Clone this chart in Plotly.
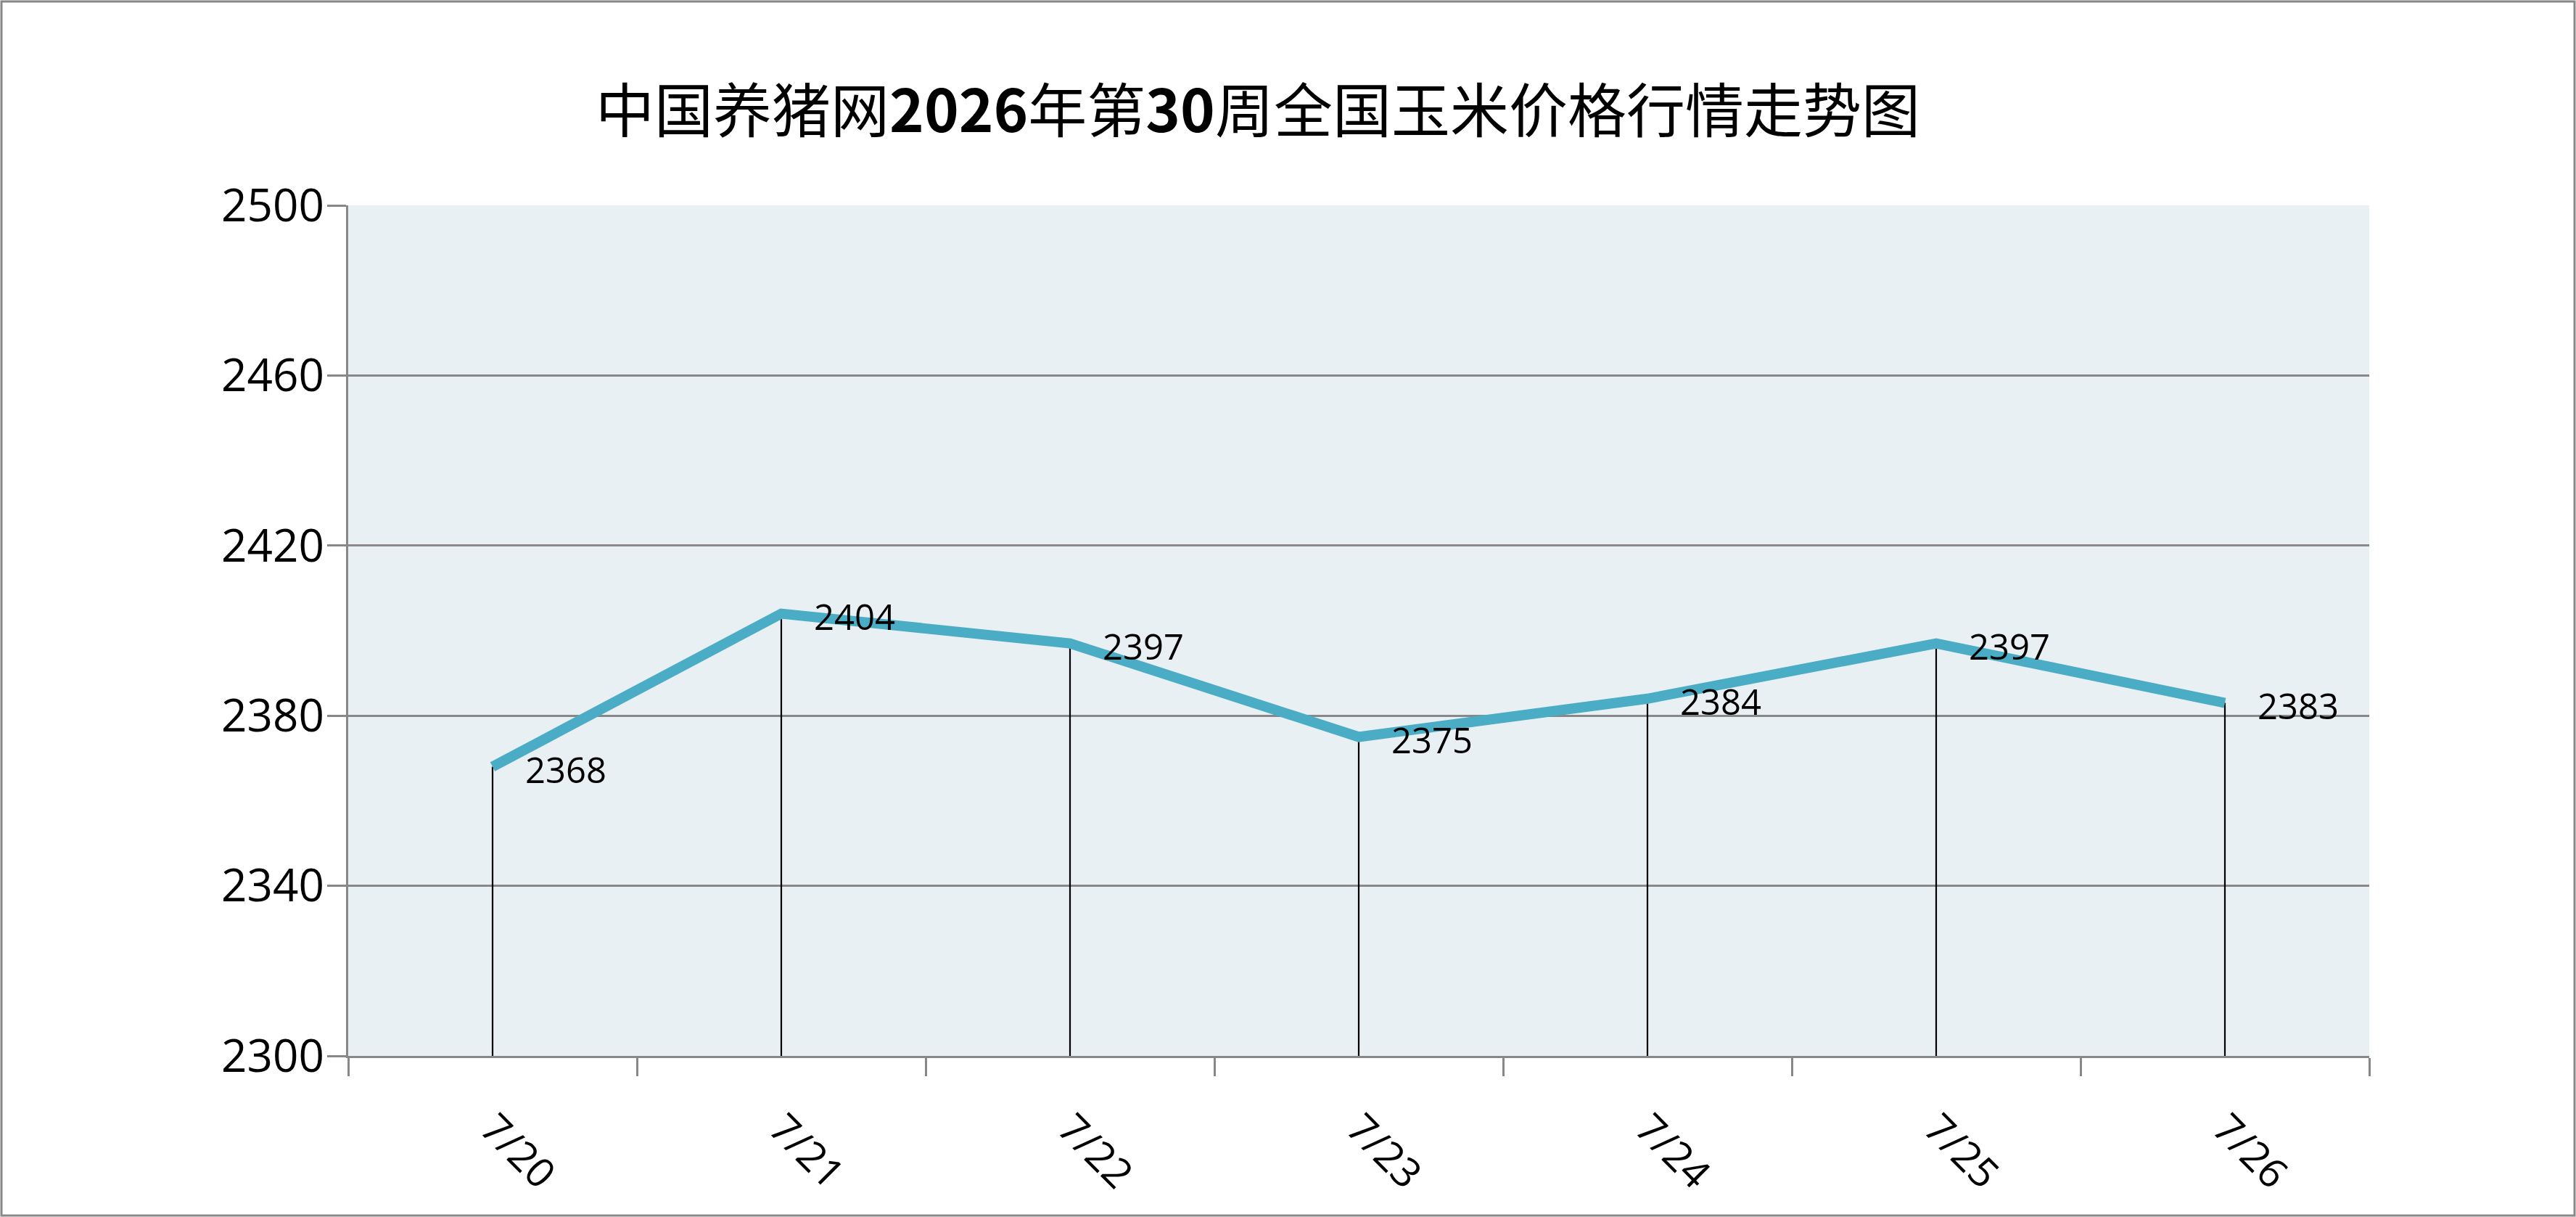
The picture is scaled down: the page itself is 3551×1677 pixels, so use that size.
import plotly.graph_objects as go

# Data
dates = ['7/20', '7/21', '7/22', '7/23', '7/24', '7/25', '7/26']
prices = [2368, 2404, 2397, 2375, 2384, 2397, 2383]
y_ticks = [2300, 2340, 2380, 2420, 2460, 2500]
chart_title = '中国养猪网<b>2026</b>年第<b>30</b>周全国玉米价格行情走势图'

W, H = 3551, 1677
ML, MR, MT, MB = 480, 285, 283, 222
base = y_ticks[0]

fig = go.Figure()

# Excel-style drop lines from each point down to the axis
fig.add_trace(go.Scatter(
    x=dates, y=prices, mode='markers',
    marker=dict(opacity=0, size=1),
    error_y=dict(type='data', symmetric=False,
                 array=[0] * len(prices),
                 arrayminus=[p - base for p in prices],
                 width=0, color='black', thickness=2.2),
    hoverinfo='skip', showlegend=False
))

# Price line
fig.add_trace(go.Scatter(
    x=dates, y=prices, mode='lines',
    line=dict(color='#4BACC6', width=14),
    showlegend=False
))

# Value labels to the right of each point
for d, p in zip(dates, prices):
    fig.add_annotation(
        x=d, y=p, text=str(p), showarrow=False,
        xanchor='left', yanchor='middle', xshift=43, yshift=-3,
        font=dict(family='Open Sans', size=49, color='black')
    )

# Grey frame around the whole chart
pw, ph = W - ML - MR, H - MT - MB
fig.add_shape(
    type='rect', xref='paper', yref='paper',
    x0=-(ML - 2) / pw, x1=1 + (MR - 2) / pw,
    y0=-(MB - 2) / ph, y1=1 + (MT - 2) / ph,
    line=dict(color='#888888', width=3), fillcolor='rgba(0,0,0,0)'
)

fig.update_layout(
    width=W, height=H,
    margin=dict(l=ML, r=MR, t=MT, b=MB),
    paper_bgcolor='white',
    plot_bgcolor='#E8F0F3',
    title=dict(text=chart_title, x=1734 / W, xref='container', xanchor='center',
               y=1 - 154 / H, yref='container', yanchor='middle',
               font=dict(family='Noto Sans CJK SC', size=81, color='black')),
    font=dict(family='Open Sans', color='black'),
    showlegend=False,
)

fig.update_xaxes(
    type='category', range=[-0.5, len(dates) - 0.5],
    tickson='boundaries', ticks='outside', ticklen=25, tickwidth=2.5, tickcolor='#888888',
    showline=True, linecolor='#888888', linewidth=2.5,
    showgrid=False, tickangle=45, ticklabelstandoff=42,
    tickfont=dict(family='Open Sans', size=56, color='black')
)

fig.update_yaxes(
    range=[base, y_ticks[-1]], tickvals=y_ticks,
    ticks='outside', ticklen=26, tickwidth=2.5, tickcolor='#888888',
    showline=True, linecolor='#888888', linewidth=2.5,
    showgrid=True, gridcolor='#888888', gridwidth=2.5, zeroline=False,
    ticklabelstandoff=-8,
    tickfont=dict(family='Open Sans', size=62, color='black')
)

# drop the browser's default page margin so the chart sits at the window edge
fig.write_html("out.html", config={'displayModeBar': False},
               post_script="document.body.style.margin='0';")
